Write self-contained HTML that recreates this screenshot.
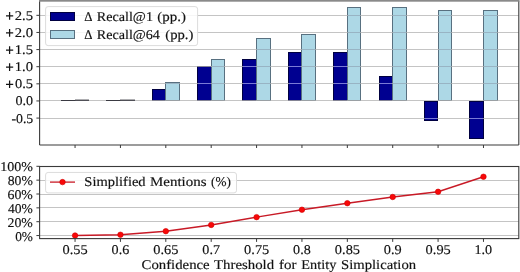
<!DOCTYPE html><html><head><meta charset="utf-8"><style>html,body{margin:0;padding:0;background:#fff;width:520px;height:272px;overflow:hidden}svg{display:block;will-change:transform}text{font-family:"Liberation Serif",serif;fill:#111;stroke:#111;stroke-width:0.15px;text-rendering:geometricPrecision}</style></head><body>
<svg width="520" height="272" viewBox="0 0 520 272">
<rect x="0" y="0" width="520" height="272" fill="#fff"/>
<rect x="152.50" y="89.50" width="13.00" height="11.00" fill="#000090" stroke="#000040" stroke-width="1"/>
<rect x="165.50" y="82.50" width="14.00" height="18.00" fill="#add8e6" stroke="#587080" stroke-width="1"/>
<rect x="197.50" y="66.50" width="14.00" height="34.00" fill="#000090" stroke="#000040" stroke-width="1"/>
<rect x="211.50" y="59.50" width="13.00" height="41.00" fill="#add8e6" stroke="#587080" stroke-width="1"/>
<rect x="242.50" y="59.50" width="14.00" height="41.00" fill="#000090" stroke="#000040" stroke-width="1"/>
<rect x="256.50" y="38.50" width="14.00" height="62.00" fill="#add8e6" stroke="#587080" stroke-width="1"/>
<rect x="288.50" y="52.50" width="13.00" height="48.00" fill="#000090" stroke="#000040" stroke-width="1"/>
<rect x="301.50" y="34.50" width="14.00" height="66.00" fill="#add8e6" stroke="#587080" stroke-width="1"/>
<rect x="333.50" y="52.50" width="14.00" height="48.00" fill="#000090" stroke="#000040" stroke-width="1"/>
<rect x="347.50" y="7.50" width="13.00" height="93.00" fill="#add8e6" stroke="#587080" stroke-width="1"/>
<rect x="379.50" y="76.50" width="13.00" height="24.00" fill="#000090" stroke="#000040" stroke-width="1"/>
<rect x="392.50" y="7.50" width="14.00" height="93.00" fill="#add8e6" stroke="#587080" stroke-width="1"/>
<rect x="424.50" y="101.50" width="13.00" height="19.00" fill="#000090" stroke="#000040" stroke-width="1"/>
<rect x="438.50" y="10.50" width="13.00" height="90.00" fill="#add8e6" stroke="#587080" stroke-width="1"/>
<rect x="469.50" y="101.50" width="14.00" height="37.00" fill="#000090" stroke="#000040" stroke-width="1"/>
<rect x="483.50" y="10.50" width="14.00" height="90.00" fill="#add8e6" stroke="#587080" stroke-width="1"/>
<line x1="39.60" x2="518.80" y1="15.50" y2="15.50" stroke="#b0b0b0" stroke-opacity="0.75" stroke-width="1"/>
<line x1="348.00" x2="360.00" y1="15.50" y2="15.50" stroke="#98b4c4" stroke-width="1"/>
<line x1="393.00" x2="406.00" y1="15.50" y2="15.50" stroke="#98b4c4" stroke-width="1"/>
<line x1="439.00" x2="451.00" y1="15.50" y2="15.50" stroke="#98b4c4" stroke-width="1"/>
<line x1="484.00" x2="497.00" y1="15.50" y2="15.50" stroke="#98b4c4" stroke-width="1"/>
<line x1="39.60" x2="518.80" y1="32.50" y2="32.50" stroke="#b0b0b0" stroke-opacity="0.75" stroke-width="1"/>
<line x1="348.00" x2="360.00" y1="32.50" y2="32.50" stroke="#98b4c4" stroke-width="1"/>
<line x1="393.00" x2="406.00" y1="32.50" y2="32.50" stroke="#98b4c4" stroke-width="1"/>
<line x1="439.00" x2="451.00" y1="32.50" y2="32.50" stroke="#98b4c4" stroke-width="1"/>
<line x1="484.00" x2="497.00" y1="32.50" y2="32.50" stroke="#98b4c4" stroke-width="1"/>
<line x1="39.60" x2="518.80" y1="49.50" y2="49.50" stroke="#b0b0b0" stroke-opacity="0.75" stroke-width="1"/>
<line x1="257.00" x2="270.00" y1="49.50" y2="49.50" stroke="#98b4c4" stroke-width="1"/>
<line x1="302.00" x2="315.00" y1="49.50" y2="49.50" stroke="#98b4c4" stroke-width="1"/>
<line x1="348.00" x2="360.00" y1="49.50" y2="49.50" stroke="#98b4c4" stroke-width="1"/>
<line x1="393.00" x2="406.00" y1="49.50" y2="49.50" stroke="#98b4c4" stroke-width="1"/>
<line x1="439.00" x2="451.00" y1="49.50" y2="49.50" stroke="#98b4c4" stroke-width="1"/>
<line x1="484.00" x2="497.00" y1="49.50" y2="49.50" stroke="#98b4c4" stroke-width="1"/>
<line x1="39.60" x2="518.80" y1="66.50" y2="66.50" stroke="#b0b0b0" stroke-opacity="0.75" stroke-width="1"/>
<line x1="212.00" x2="224.00" y1="66.50" y2="66.50" stroke="#98b4c4" stroke-width="1"/>
<line x1="243.00" x2="256.00" y1="66.50" y2="66.50" stroke="#7a7ad6" stroke-width="1"/>
<line x1="257.00" x2="270.00" y1="66.50" y2="66.50" stroke="#98b4c4" stroke-width="1"/>
<line x1="289.00" x2="301.00" y1="66.50" y2="66.50" stroke="#7a7ad6" stroke-width="1"/>
<line x1="302.00" x2="315.00" y1="66.50" y2="66.50" stroke="#98b4c4" stroke-width="1"/>
<line x1="334.00" x2="347.00" y1="66.50" y2="66.50" stroke="#7a7ad6" stroke-width="1"/>
<line x1="348.00" x2="360.00" y1="66.50" y2="66.50" stroke="#98b4c4" stroke-width="1"/>
<line x1="393.00" x2="406.00" y1="66.50" y2="66.50" stroke="#98b4c4" stroke-width="1"/>
<line x1="439.00" x2="451.00" y1="66.50" y2="66.50" stroke="#98b4c4" stroke-width="1"/>
<line x1="484.00" x2="497.00" y1="66.50" y2="66.50" stroke="#98b4c4" stroke-width="1"/>
<line x1="39.60" x2="518.80" y1="83.50" y2="83.50" stroke="#b0b0b0" stroke-opacity="0.75" stroke-width="1"/>
<line x1="166.00" x2="179.00" y1="83.50" y2="83.50" stroke="#98b4c4" stroke-width="1"/>
<line x1="198.00" x2="211.00" y1="83.50" y2="83.50" stroke="#7a7ad6" stroke-width="1"/>
<line x1="212.00" x2="224.00" y1="83.50" y2="83.50" stroke="#98b4c4" stroke-width="1"/>
<line x1="243.00" x2="256.00" y1="83.50" y2="83.50" stroke="#7a7ad6" stroke-width="1"/>
<line x1="257.00" x2="270.00" y1="83.50" y2="83.50" stroke="#98b4c4" stroke-width="1"/>
<line x1="289.00" x2="301.00" y1="83.50" y2="83.50" stroke="#7a7ad6" stroke-width="1"/>
<line x1="302.00" x2="315.00" y1="83.50" y2="83.50" stroke="#98b4c4" stroke-width="1"/>
<line x1="334.00" x2="347.00" y1="83.50" y2="83.50" stroke="#7a7ad6" stroke-width="1"/>
<line x1="348.00" x2="360.00" y1="83.50" y2="83.50" stroke="#98b4c4" stroke-width="1"/>
<line x1="380.00" x2="392.00" y1="83.50" y2="83.50" stroke="#7a7ad6" stroke-width="1"/>
<line x1="393.00" x2="406.00" y1="83.50" y2="83.50" stroke="#98b4c4" stroke-width="1"/>
<line x1="439.00" x2="451.00" y1="83.50" y2="83.50" stroke="#98b4c4" stroke-width="1"/>
<line x1="484.00" x2="497.00" y1="83.50" y2="83.50" stroke="#98b4c4" stroke-width="1"/>
<line x1="39.60" x2="518.80" y1="100.50" y2="100.50" stroke="#b0b0b0" stroke-opacity="0.75" stroke-width="1"/>
<line x1="39.60" x2="518.80" y1="118.50" y2="118.50" stroke="#b0b0b0" stroke-opacity="0.75" stroke-width="1"/>
<line x1="425.00" x2="437.00" y1="118.50" y2="118.50" stroke="#7a7ad6" stroke-width="1"/>
<line x1="470.00" x2="483.00" y1="118.50" y2="118.50" stroke="#7a7ad6" stroke-width="1"/>
<line x1="61.00" x2="76.00" y1="100.50" y2="100.50" stroke="#3a3a42" stroke-width="1"/>
<line x1="75.00" x2="89.00" y1="100.25" y2="100.25" stroke="#4a4a52" stroke-width="1.4"/>
<line x1="106.00" x2="121.00" y1="100.50" y2="100.50" stroke="#3a3a42" stroke-width="1"/>
<line x1="120.00" x2="135.00" y1="100.25" y2="100.25" stroke="#4a4a52" stroke-width="1.4"/>
<rect x="45.6" y="6.6" width="152" height="39" rx="2.5" fill="#fff" fill-opacity="0.85" stroke="#dcdcdc" stroke-width="1"/>
<rect x="50.5" y="12.5" width="24" height="8" fill="#000090" stroke="#000040" stroke-width="1"/>
<rect x="50.5" y="30.5" width="24" height="8" fill="#add8e6" stroke="#587080" stroke-width="1"/>
<text x="84.30" y="20.70" font-size="13.40" textLength="8.22" lengthAdjust="spacingAndGlyphs">Δ</text>
<text x="96.74" y="20.70" font-size="13.40" textLength="56.24" lengthAdjust="spacingAndGlyphs">Recall@1</text>
<text x="157.34" y="20.70" font-size="13.40" textLength="28.63" lengthAdjust="spacingAndGlyphs">(pp.)</text>
<text x="84.30" y="38.60" font-size="13.40" textLength="8.22" lengthAdjust="spacingAndGlyphs">Δ</text>
<text x="96.74" y="38.60" font-size="13.40" textLength="63.20" lengthAdjust="spacingAndGlyphs">Recall@64</text>
<text x="165.25" y="38.60" font-size="13.40" textLength="28.21" lengthAdjust="spacingAndGlyphs">(pp.)</text>
<line x1="39.60" x2="39.60" y1="0.50" y2="145.00" stroke="#3a3a3a" stroke-width="1.1"/>
<line x1="518.80" x2="518.80" y1="0.50" y2="145.00" stroke="#3a3a3a" stroke-width="1.1"/>
<line x1="39.60" x2="518.80" y1="145.00" y2="145.00" stroke="#3a3a3a" stroke-width="1.1"/>
<rect x="39.00" y="0" width="480.40" height="1.7" fill="#8a8a8a"/>
<line x1="36.40" x2="39.60" y1="15.33" y2="15.33" stroke="#3a3a3a" stroke-width="1"/>
<path d="M6.0 15.78H13.2M9.6 11.93V19.63" stroke="#141414" stroke-width="1.25" fill="none"/>
<text x="14.75" y="19.78" font-size="13.40" textLength="18.32" lengthAdjust="spacingAndGlyphs">2.5</text>
<line x1="36.40" x2="39.60" y1="32.45" y2="32.45" stroke="#3a3a3a" stroke-width="1"/>
<path d="M6.0 32.90H13.2M9.6 29.05V36.75" stroke="#141414" stroke-width="1.25" fill="none"/>
<text x="14.75" y="36.90" font-size="13.40" textLength="18.32" lengthAdjust="spacingAndGlyphs">2.0</text>
<line x1="36.40" x2="39.60" y1="49.58" y2="49.58" stroke="#3a3a3a" stroke-width="1"/>
<path d="M6.0 50.03H13.2M9.6 46.18V53.88" stroke="#141414" stroke-width="1.25" fill="none"/>
<text x="14.81" y="54.03" font-size="13.40" textLength="18.26" lengthAdjust="spacingAndGlyphs">1.5</text>
<line x1="36.40" x2="39.60" y1="66.70" y2="66.70" stroke="#3a3a3a" stroke-width="1"/>
<path d="M6.0 67.15H13.2M9.6 63.30V71.00" stroke="#141414" stroke-width="1.25" fill="none"/>
<text x="14.81" y="71.15" font-size="13.40" textLength="18.26" lengthAdjust="spacingAndGlyphs">1.0</text>
<line x1="36.40" x2="39.60" y1="83.83" y2="83.83" stroke="#3a3a3a" stroke-width="1"/>
<path d="M6.0 84.28H13.2M9.6 80.43V88.12" stroke="#141414" stroke-width="1.25" fill="none"/>
<text x="15.03" y="88.28" font-size="13.40" textLength="18.04" lengthAdjust="spacingAndGlyphs">0.5</text>
<line x1="36.40" x2="39.60" y1="100.95" y2="100.95" stroke="#3a3a3a" stroke-width="1"/>
<text x="15.46" y="105.40" font-size="13.40" textLength="17.61" lengthAdjust="spacingAndGlyphs">0.0</text>
<line x1="36.40" x2="39.60" y1="118.08" y2="118.08" stroke="#3a3a3a" stroke-width="1"/>
<text x="11.40" y="122.53" font-size="13.40" textLength="21.87" lengthAdjust="spacingAndGlyphs">-0.5</text>
<line x1="75.05" x2="75.05" y1="145.00" y2="148.00" stroke="#3a3a3a" stroke-width="1"/>
<line x1="120.43" x2="120.43" y1="145.00" y2="148.00" stroke="#3a3a3a" stroke-width="1"/>
<line x1="165.81" x2="165.81" y1="145.00" y2="148.00" stroke="#3a3a3a" stroke-width="1"/>
<line x1="211.19" x2="211.19" y1="145.00" y2="148.00" stroke="#3a3a3a" stroke-width="1"/>
<line x1="256.57" x2="256.57" y1="145.00" y2="148.00" stroke="#3a3a3a" stroke-width="1"/>
<line x1="301.95" x2="301.95" y1="145.00" y2="148.00" stroke="#3a3a3a" stroke-width="1"/>
<line x1="347.33" x2="347.33" y1="145.00" y2="148.00" stroke="#3a3a3a" stroke-width="1"/>
<line x1="392.71" x2="392.71" y1="145.00" y2="148.00" stroke="#3a3a3a" stroke-width="1"/>
<line x1="438.09" x2="438.09" y1="145.00" y2="148.00" stroke="#3a3a3a" stroke-width="1"/>
<line x1="483.47" x2="483.47" y1="145.00" y2="148.00" stroke="#3a3a3a" stroke-width="1"/>
<line x1="39.60" x2="518.80" y1="166.50" y2="166.50" stroke="#b0b0b0" stroke-opacity="0.75" stroke-width="1"/>
<line x1="39.60" x2="518.80" y1="180.50" y2="180.50" stroke="#b0b0b0" stroke-opacity="0.75" stroke-width="1"/>
<line x1="39.60" x2="518.80" y1="194.50" y2="194.50" stroke="#b0b0b0" stroke-opacity="0.75" stroke-width="1"/>
<line x1="39.60" x2="518.80" y1="207.50" y2="207.50" stroke="#b0b0b0" stroke-opacity="0.75" stroke-width="1"/>
<line x1="39.60" x2="518.80" y1="221.50" y2="221.50" stroke="#b0b0b0" stroke-opacity="0.75" stroke-width="1"/>
<line x1="39.60" x2="518.80" y1="235.50" y2="235.50" stroke="#b0b0b0" stroke-opacity="0.75" stroke-width="1"/>
<polyline points="75.05,235.55 120.43,234.75 165.81,231.19 211.19,224.95 256.57,217.13 301.95,209.72 347.33,203.21 392.71,196.98 438.09,191.78 483.47,176.76" fill="none" stroke="#c81a26" stroke-width="1.4"/>
<circle cx="75.05" cy="235.55" r="2.75" fill="#f80808" stroke="#d00000" stroke-width="0.6"/>
<circle cx="120.43" cy="234.75" r="2.75" fill="#f80808" stroke="#d00000" stroke-width="0.6"/>
<circle cx="165.81" cy="231.19" r="2.75" fill="#f80808" stroke="#d00000" stroke-width="0.6"/>
<circle cx="211.19" cy="224.95" r="2.75" fill="#f80808" stroke="#d00000" stroke-width="0.6"/>
<circle cx="256.57" cy="217.13" r="2.75" fill="#f80808" stroke="#d00000" stroke-width="0.6"/>
<circle cx="301.95" cy="209.72" r="2.75" fill="#f80808" stroke="#d00000" stroke-width="0.6"/>
<circle cx="347.33" cy="203.21" r="2.75" fill="#f80808" stroke="#d00000" stroke-width="0.6"/>
<circle cx="392.71" cy="196.98" r="2.75" fill="#f80808" stroke="#d00000" stroke-width="0.6"/>
<circle cx="438.09" cy="191.78" r="2.75" fill="#f80808" stroke="#d00000" stroke-width="0.6"/>
<circle cx="483.47" cy="176.76" r="2.75" fill="#f80808" stroke="#d00000" stroke-width="0.6"/>
<rect x="45.6" y="172.45" width="190.9" height="20.45" rx="2.5" fill="#fff" fill-opacity="0.85" stroke="#dcdcdc" stroke-width="1"/>
<line x1="50" x2="75" y1="182.1" y2="182.1" stroke="#c81a26" stroke-width="1.3"/>
<circle cx="62.5" cy="182.1" r="2.75" fill="#f80808" stroke="#d00000" stroke-width="0.6"/>
<text x="84.39" y="186.40" font-size="13.40" textLength="61.26" lengthAdjust="spacingAndGlyphs">Simplified</text>
<text x="150.02" y="186.40" font-size="13.40" textLength="56.46" lengthAdjust="spacingAndGlyphs">Mentions</text>
<text x="211.01" y="186.40" font-size="13.40" textLength="19.82" lengthAdjust="spacingAndGlyphs">(%)</text>
<rect x="39.60" y="166.50" width="479.20" height="72.10" fill="none" stroke="#3a3a3a" stroke-width="1.1"/>
<line x1="36.40" x2="39.60" y1="166.30" y2="166.30" stroke="#3a3a3a" stroke-width="1"/>
<text x="0.17" y="171.40" font-size="13.40" textLength="32.69" lengthAdjust="spacingAndGlyphs">100%</text>
<line x1="36.40" x2="39.60" y1="180.15" y2="180.15" stroke="#3a3a3a" stroke-width="1"/>
<text x="7.77" y="185.25" font-size="13.40" textLength="25.13" lengthAdjust="spacingAndGlyphs">80%</text>
<line x1="36.40" x2="39.60" y1="194.00" y2="194.00" stroke="#3a3a3a" stroke-width="1"/>
<text x="7.51" y="199.10" font-size="13.40" textLength="25.39" lengthAdjust="spacingAndGlyphs">60%</text>
<line x1="36.40" x2="39.60" y1="207.85" y2="207.85" stroke="#3a3a3a" stroke-width="1"/>
<text x="8.03" y="212.95" font-size="13.40" textLength="24.87" lengthAdjust="spacingAndGlyphs">40%</text>
<line x1="36.40" x2="39.60" y1="221.70" y2="221.70" stroke="#3a3a3a" stroke-width="1"/>
<text x="7.51" y="226.80" font-size="13.40" textLength="25.39" lengthAdjust="spacingAndGlyphs">20%</text>
<line x1="36.40" x2="39.60" y1="235.55" y2="235.55" stroke="#3a3a3a" stroke-width="1"/>
<text x="15.18" y="240.65" font-size="13.40" textLength="17.78" lengthAdjust="spacingAndGlyphs">0%</text>
<line x1="75.05" x2="75.05" y1="238.60" y2="241.90" stroke="#3a3a3a" stroke-width="1"/>
<text x="62.59" y="253.80" font-size="13.40" textLength="25.13" lengthAdjust="spacingAndGlyphs">0.55</text>
<line x1="120.43" x2="120.43" y1="238.60" y2="241.90" stroke="#3a3a3a" stroke-width="1"/>
<text x="111.62" y="253.80" font-size="13.40" textLength="17.63" lengthAdjust="spacingAndGlyphs">0.6</text>
<line x1="165.81" x2="165.81" y1="238.60" y2="241.90" stroke="#3a3a3a" stroke-width="1"/>
<text x="153.35" y="253.80" font-size="13.40" textLength="25.13" lengthAdjust="spacingAndGlyphs">0.65</text>
<line x1="211.19" x2="211.19" y1="238.60" y2="241.90" stroke="#3a3a3a" stroke-width="1"/>
<text x="202.38" y="253.80" font-size="13.40" textLength="17.63" lengthAdjust="spacingAndGlyphs">0.7</text>
<line x1="256.57" x2="256.57" y1="238.60" y2="241.90" stroke="#3a3a3a" stroke-width="1"/>
<text x="244.11" y="253.80" font-size="13.40" textLength="25.13" lengthAdjust="spacingAndGlyphs">0.75</text>
<line x1="301.95" x2="301.95" y1="238.60" y2="241.90" stroke="#3a3a3a" stroke-width="1"/>
<text x="293.14" y="253.80" font-size="13.40" textLength="17.63" lengthAdjust="spacingAndGlyphs">0.8</text>
<line x1="347.33" x2="347.33" y1="238.60" y2="241.90" stroke="#3a3a3a" stroke-width="1"/>
<text x="334.87" y="253.80" font-size="13.40" textLength="25.13" lengthAdjust="spacingAndGlyphs">0.85</text>
<line x1="392.71" x2="392.71" y1="238.60" y2="241.90" stroke="#3a3a3a" stroke-width="1"/>
<text x="383.89" y="253.80" font-size="13.40" textLength="17.90" lengthAdjust="spacingAndGlyphs">0.9</text>
<line x1="438.09" x2="438.09" y1="238.60" y2="241.90" stroke="#3a3a3a" stroke-width="1"/>
<text x="425.63" y="253.80" font-size="13.40" textLength="25.13" lengthAdjust="spacingAndGlyphs">0.95</text>
<line x1="483.47" x2="483.47" y1="238.60" y2="241.90" stroke="#3a3a3a" stroke-width="1"/>
<text x="474.51" y="253.80" font-size="13.40" textLength="17.72" lengthAdjust="spacingAndGlyphs">1.0</text>
<text x="141.55" y="268.50" font-size="13.40" textLength="68.11" lengthAdjust="spacingAndGlyphs">Confidence</text>
<text x="214.00" y="268.50" font-size="13.40" textLength="60.15" lengthAdjust="spacingAndGlyphs">Threshold</text>
<text x="279.12" y="268.50" font-size="13.40" textLength="17.44" lengthAdjust="spacingAndGlyphs">for</text>
<text x="301.33" y="268.50" font-size="13.40" textLength="34.95" lengthAdjust="spacingAndGlyphs">Entity</text>
<text x="340.98" y="268.50" font-size="13.40" textLength="75.13" lengthAdjust="spacingAndGlyphs">Simplication</text>
</svg></body></html>
